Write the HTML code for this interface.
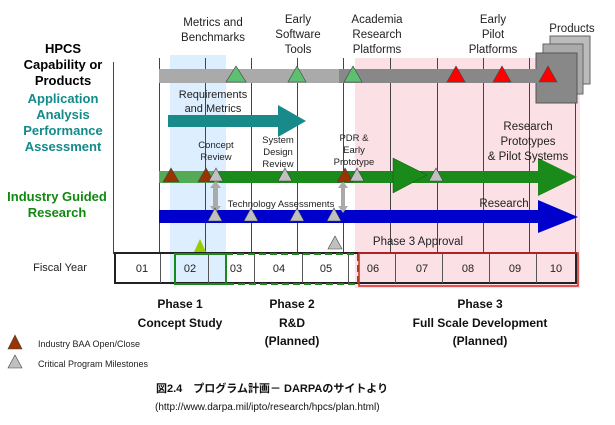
<!DOCTYPE html>
<html><head><meta charset="utf-8"><style>
html,body{margin:0;padding:0;background:#fff;width:615px;height:425px;overflow:hidden}
svg{display:block}
text{font-family:"Liberation Sans","Noto Sans CJK JP",sans-serif}
</style></head><body>
<svg width="615" height="425" viewBox="0 0 615 425">
<rect x="170" y="55" width="56" height="230" fill="#ddeeff"/>
<rect x="355" y="58" width="225" height="230" fill="#fbe0e6"/>
<g stroke="#444" stroke-width="1">
<line x1="113.5" y1="62" x2="113.5" y2="254"/>
<line x1="159.5" y1="58" x2="159.5" y2="254"/>
<line x1="205.5" y1="58" x2="205.5" y2="254"/>
<line x1="251.5" y1="58" x2="251.5" y2="254"/>
<line x1="297.5" y1="58" x2="297.5" y2="254"/>
<line x1="343.5" y1="58" x2="343.5" y2="254"/>
<line x1="390.5" y1="58" x2="390.5" y2="254"/>
<line x1="437.5" y1="58" x2="437.5" y2="254"/>
<line x1="483.5" y1="58" x2="483.5" y2="254"/>
<line x1="529.5" y1="58" x2="529.5" y2="254"/>
<line x1="575.5" y1="100" x2="575.5" y2="254"/>
</g>
<g font-size="11.5" fill="#222" text-anchor="middle">
<text x="213" y="26">Metrics and</text><text x="213" y="41">Benchmarks</text>
<text x="298" y="23">Early</text><text x="298" y="38">Software</text><text x="298" y="53">Tools</text>
<text x="377" y="23">Academia</text><text x="377" y="38">Research</text><text x="377" y="53">Platforms</text>
<text x="493" y="23">Early</text><text x="493" y="38">Pilot</text><text x="493" y="53">Platforms</text>
</g>
<rect x="550" y="36" width="40" height="48" fill="#bbb" stroke="#666"/>
<rect x="543" y="44" width="40" height="50" fill="#aaa" stroke="#666"/>
<rect x="536" y="53" width="41" height="50" fill="#888" stroke="#555"/>
<text x="572" y="32" font-size="11.5" fill="#222" text-anchor="middle">Products</text>
<polygon points="159,69 540,69 540,66 577,76 540,86 540,83 159,83" fill="#888"/>
<rect x="159" y="69" width="180" height="14" fill="#aaa"/>
<g font-size="13" font-weight="bold" text-anchor="middle">
<text x="63" y="53" fill="#000">HPCS</text>
<text x="63" y="69" fill="#000">Capability or</text>
<text x="63" y="85" fill="#000">Products</text>
<text x="63" y="103" fill="#138a8a">Application</text>
<text x="63" y="119" fill="#138a8a">Analysis</text>
<text x="63" y="135" fill="#138a8a">Performance</text>
<text x="63" y="151" fill="#138a8a">Assessment</text>
<text x="57" y="201" fill="#118811">Industry Guided</text>
<text x="57" y="217" fill="#118811">Research</text>
</g>
<polygon points="168,115 278,115 278,105 306,121 278,137 278,127 168,127" fill="#188a8a"/>
<text x="213" y="98" font-size="11" fill="#222" text-anchor="middle">Requirements</text>
<text x="213" y="112" font-size="11" fill="#222" text-anchor="middle">and Metrics</text>
<polygon points="159,171 538,171 538,158 577,177 538,196 538,183 159,183" fill="#1a8a1a"/>
<polygon points="393,158 427,175 393,193" fill="#1a8a1a" stroke="#0a5a0a" stroke-width="0.5"/>
<rect x="159" y="171" width="60" height="12" fill="#55aa55"/>
<polygon points="159,210 538,210 538,200 578,217 538,233 538,223 159,223" fill="#0000cc"/>
<g font-size="9.5" fill="#222" text-anchor="middle">
<text x="216" y="148">Concept</text><text x="216" y="160">Review</text>
<text x="278" y="143">System</text><text x="278" y="155">Design</text><text x="278" y="167">Review</text>
<text x="354" y="141">PDR &amp;</text><text x="354" y="153">Early</text><text x="354" y="165">Prototype</text>
<text x="281" y="207">Technology Assessments</text>
</g>
<g font-size="11.5" fill="#222" text-anchor="middle">
<text x="528" y="130">Research</text><text x="528" y="145">Prototypes</text><text x="528" y="160">&amp; Pilot Systems</text>
<text x="504" y="207">Research</text>
<text x="418" y="245">Phase 3 Approval</text>
</g>
<g fill="#aaa">
<rect x="213" y="186" width="5" height="22"/><polygon points="210,188 215.5,181 221,188"/><polygon points="210,206 215.5,213 221,206"/>
<rect x="341" y="185" width="4" height="24"/><polygon points="338,188 343,181 348,188"/><polygon points="338,206 343,213 348,206"/>
</g>
<g stroke="#444" stroke-width="0.6">
<g fill="#5cc070">
<polygon points="236,66 226,82 246,82"/><polygon points="297,66 288,82 306,82"/><polygon points="353,66 344,82 362,82"/>
</g>
<g fill="#ff0000">
<polygon points="456,66 447,82 465,82"/><polygon points="502,66 493,82 511,82"/><polygon points="548,66 539,82 557,82"/>
</g>
<g fill="#993300">
<polygon points="171,168 163,182 179,182"/><polygon points="206,168 198,182 214,182"/><polygon points="345,168 337,182 353,182"/>
<polygon points="15,335 8,349 22,349"/>
</g>
<g fill="#c0c0c0">
<polygon points="216,168 209,181 223,181"/><polygon points="285,168 278,181 292,181"/><polygon points="357,168 350,181 364,181"/><polygon points="436,168 429,181 443,181"/>
<polygon points="215,208 208,221 222,221"/><polygon points="251,208 244,221 258,221"/><polygon points="297,208 290,221 304,221"/><polygon points="334,208 327,221 341,221"/>
<polygon points="335,236 328,249 342,249"/>
<polygon points="15,355 8,368 22,368"/>
</g>
<polygon points="200,239 194,252 206,252" fill="#99cc00" stroke="none"/>
</g>
<rect x="115" y="253" width="461" height="30" fill="none" stroke="#222" stroke-width="2"/>
<g stroke="#555"><line x1="160.5" y1="254" x2="160.5" y2="283"/><line x1="208.5" y1="254" x2="208.5" y2="283"/><line x1="254.5" y1="254" x2="254.5" y2="283"/><line x1="302.5" y1="254" x2="302.5" y2="283"/><line x1="348.5" y1="254" x2="348.5" y2="283"/><line x1="395.5" y1="254" x2="395.5" y2="283"/><line x1="442.5" y1="254" x2="442.5" y2="283"/><line x1="489.5" y1="254" x2="489.5" y2="283"/><line x1="536.5" y1="254" x2="536.5" y2="283"/></g>
<rect x="175" y="254" width="51" height="30" fill="none" stroke="#1a8a1a" stroke-width="2"/>
<rect x="226" y="254" width="132" height="30" fill="none" stroke="#1a8a1a" stroke-width="2" stroke-dasharray="7,4"/>
<rect x="359" y="253" width="219" height="33" fill="none" stroke="#dd2222" stroke-width="1.5"/>
<g font-size="11" fill="#222" text-anchor="middle">
<text x="60" y="271">Fiscal Year</text>
<text x="142" y="272">01</text><text x="190" y="272">02</text><text x="236" y="272">03</text><text x="279" y="272">04</text><text x="326" y="272">05</text><text x="373" y="272">06</text><text x="422" y="272">07</text><text x="468" y="272">08</text><text x="515" y="272">09</text><text x="556" y="272">10</text>
</g>
<g font-size="12" font-weight="bold" fill="#111" text-anchor="middle">
<text x="180" y="308">Phase 1</text><text x="180" y="327">Concept Study</text>
<text x="292" y="308">Phase 2</text><text x="292" y="327">R&amp;D</text><text x="292" y="345">(Planned)</text>
<text x="480" y="308">Phase 3</text><text x="480" y="327">Full Scale Development</text><text x="480" y="345">(Planned)</text>
</g>
<text x="38" y="347" font-size="9" fill="#222">Industry BAA Open/Close</text>
<text x="38" y="367" font-size="9" fill="#222">Critical Program Milestones</text>
<text x="156" y="392" font-size="11" font-weight="bold" fill="#111">図2.4　プログラム計画－ DARPAのサイトより</text>
<text x="155" y="410" font-size="10" fill="#111">(http://www.darpa.mil/ipto/research/hpcs/plan.html)</text>
</svg>
</body></html>
